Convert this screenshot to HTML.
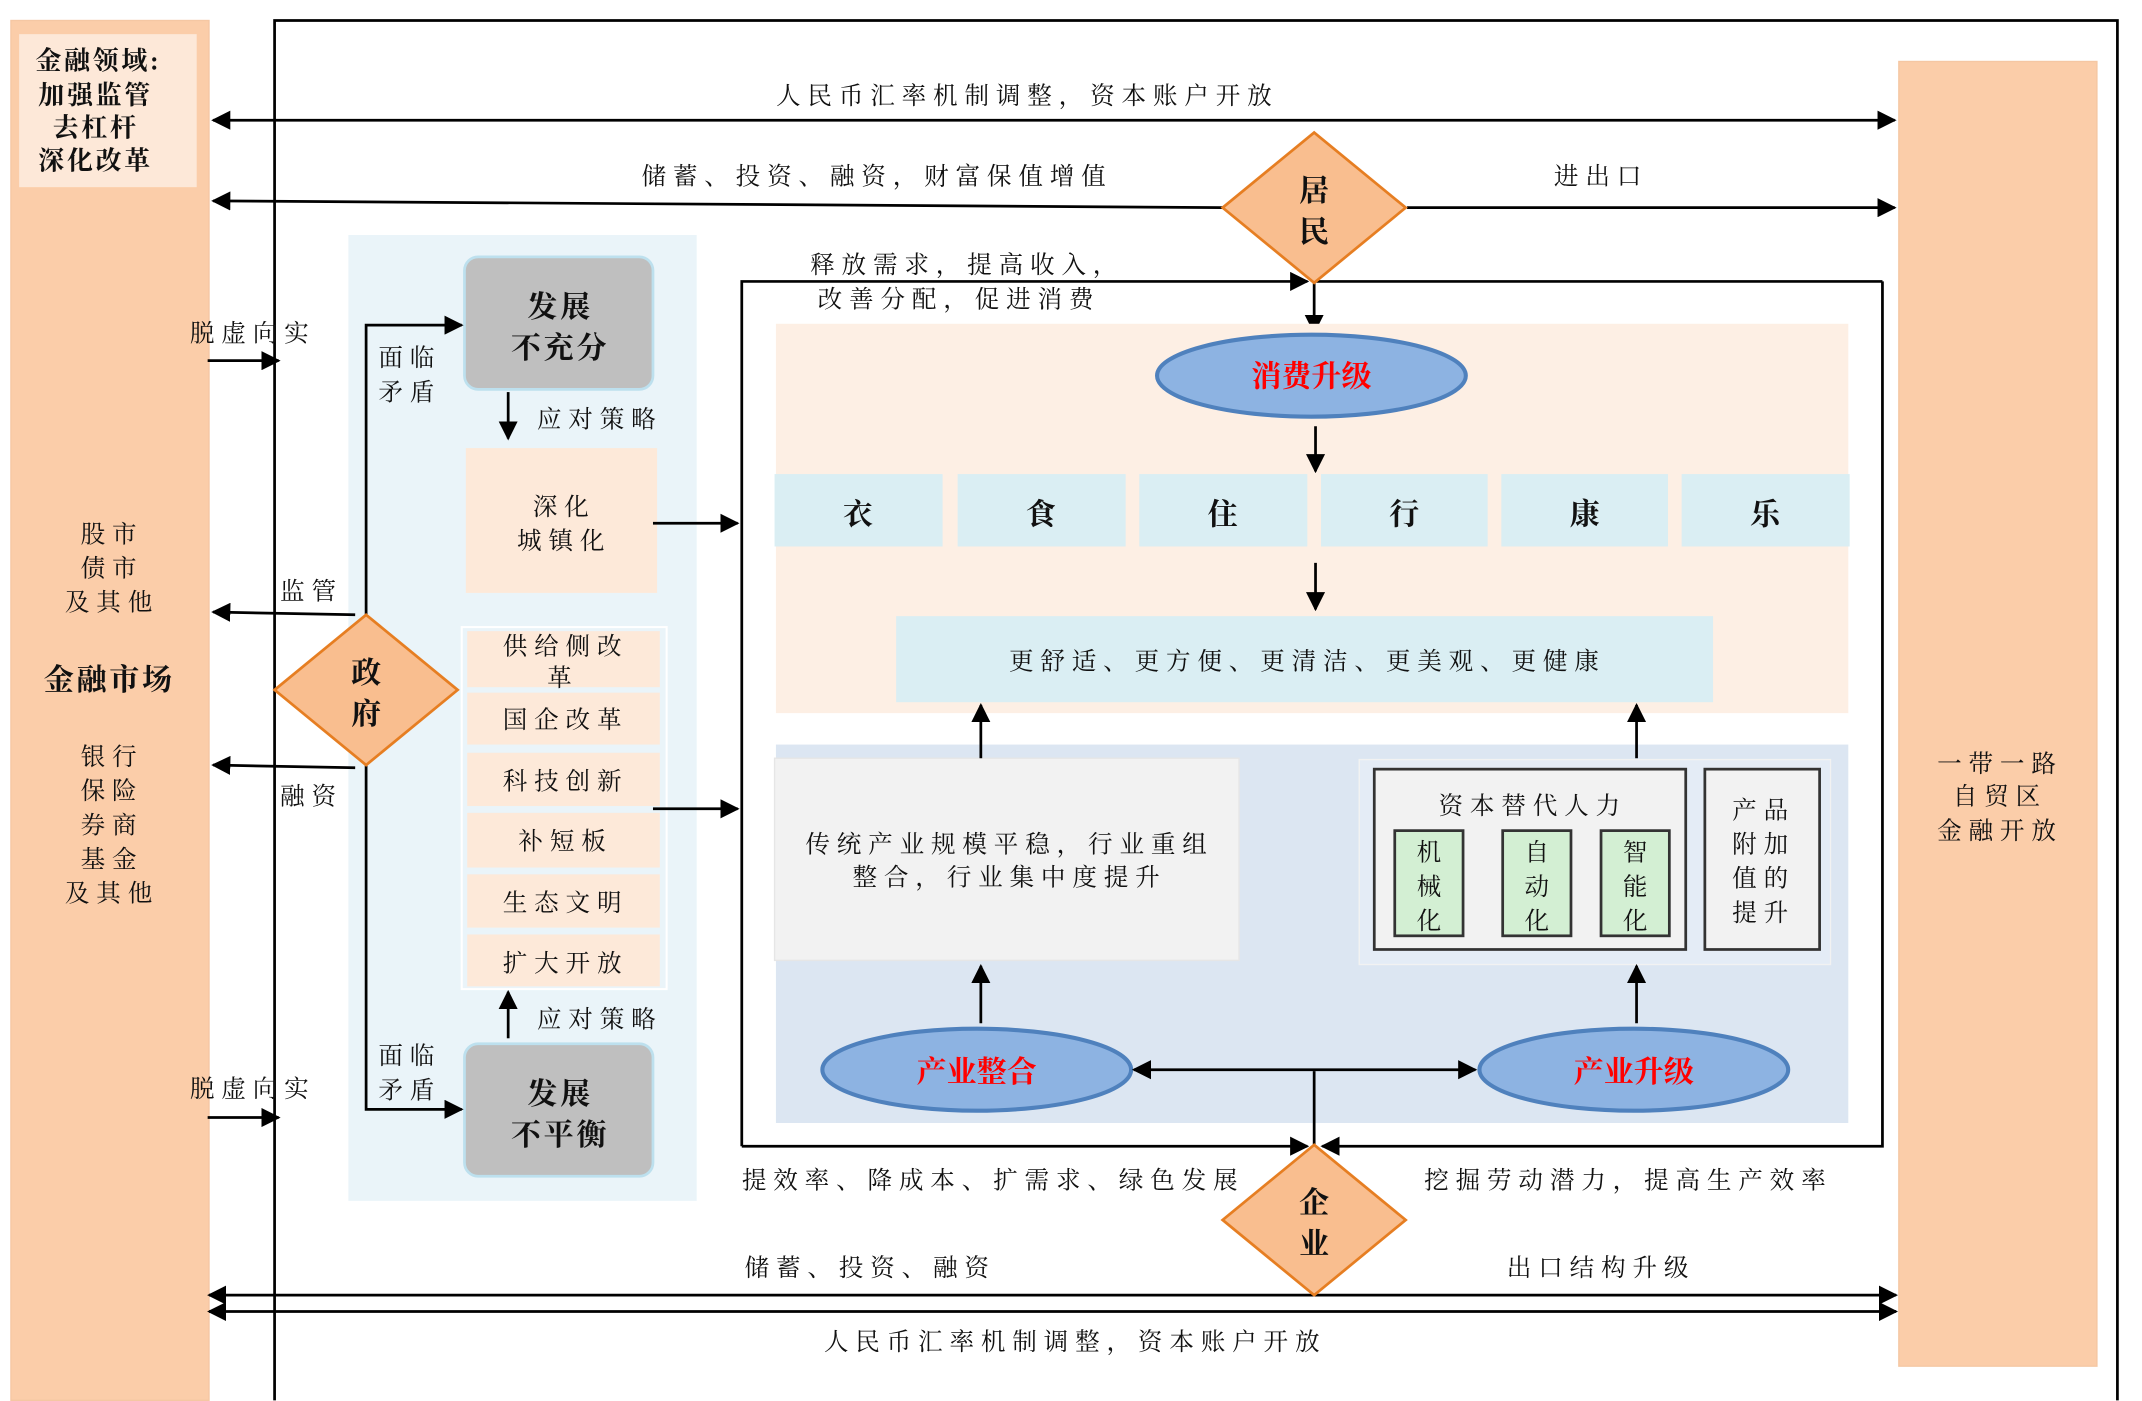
<!DOCTYPE html>
<html><head><meta charset="utf-8"><style>
html,body{margin:0;padding:0;background:#fff}
svg{display:block}
text{font-family:"Liberation Serif","Noto Serif CJK SC",serif;fill:#111}
.s text{letter-spacing:5px}
</style></head><body>
<svg width="2142" height="1401" viewBox="0 0 1568 1025.5" preserveAspectRatio="none" xmlns="http://www.w3.org/2000/svg">
<defs>
<marker id="a" viewBox="0 0 10 10" refX="9" refY="5" markerWidth="7" markerHeight="7" orient="auto-start-reverse"><path d="M0,0L10,5L0,10z" fill="#000"/></marker>
</defs>
<g stroke="#000" stroke-width="2" fill="none">
<path d="M201,1025V15H1550V1025"/>
</g>
<rect x="8" y="15" width="145" height="1010" fill="#FBCDA9" stroke="#F5C7A3"/>
<rect x="14" y="25" width="130" height="112" fill="#FDE8D8"/>
<g font-size="19" font-weight="bold" text-anchor="middle" style="letter-spacing:2px">
<text x="72" y="51">金融领域:</text><text x="70" y="76">加强监管</text><text x="70" y="100">去杠杆</text><text x="70" y="124">深化改革</text>
<text x="80" y="505" font-size="22">金融市场</text>
<text x="1462" y="509" font-size="22">外部经济</text>
</g>
<g class="s" font-size="18" text-anchor="middle">
<text x="82" y="397">股市</text><text x="82" y="422">债市</text><text x="82" y="447">及其他</text>
<text x="82" y="560">银行</text><text x="82" y="585">保险</text><text x="82" y="610">券商</text><text x="82" y="635">基金</text><text x="82" y="660">及其他</text>
</g>
<rect x="1390" y="45" width="145" height="955" fill="#FBCDA9" stroke="#F5C7A3"/>
<g class="s" font-size="18" text-anchor="middle">
<text x="1464" y="565">一带一路</text><text x="1464" y="589">自贸区</text><text x="1464" y="614">金融开放</text>
</g>
<g stroke="#000" stroke-width="2" fill="none">
<path d="M156,88H1387" marker-start="url(#a)" marker-end="url(#a)"/>
<path d="M895,152L156,147" marker-end="url(#a)"/>
<path d="M1030,152H1387" marker-end="url(#a)"/>
<path d="M962,207V243" marker-end="url(#a)"/>
<path d="M543,839V206H957" marker-end="url(#a)"/>
<path d="M962,206H1378"/>
<path d="M543,839H957" marker-end="url(#a)"/>
<path d="M1378,206V839H968" marker-end="url(#a)"/>
<path d="M153,948H1388" marker-start="url(#a)" marker-end="url(#a)"/>
<path d="M153,960H1388" marker-start="url(#a)" marker-end="url(#a)"/>
</g>
<g class="s" font-size="18" text-anchor="middle">
<text x="752" y="76">人民币汇率机制调整，资本账户开放</text>
<text x="642" y="135">储蓄、投资、融资，财富保值增值</text>
<text x="1172" y="135">进出口</text>
<text x="708" y="200">释放需求，提高收入，</text>
<text x="702" y="225">改善分配，促进消费</text>
<text x="727" y="870">提效率、降成本、扩需求、绿色发展</text>
<text x="1192" y="870">挖掘劳动潜力，提高生产效率</text>
<text x="637" y="934">储蓄、投资、融资</text>
<text x="1172" y="934">出口结构升级</text>
<text x="787" y="988">人民币汇率机制调整，资本账户开放</text>
</g>
<rect x="568" y="237" width="785" height="285" fill="#FDEFE4"/>
<ellipse cx="960" cy="275" rx="113" ry="30" fill="#8DB3E2" stroke="#4F81BD" stroke-width="3"/>
<text x="960" y="283" font-size="22" font-weight="bold" text-anchor="middle" style="fill:#FF0000">消费升级</text>
<g fill="#DAEEF3">
<rect x="567" y="347" width="123" height="53"/><rect x="701" y="347" width="123" height="53"/><rect x="834" y="347" width="123" height="53"/><rect x="967" y="347" width="122" height="53"/><rect x="1099" y="347" width="122" height="53"/><rect x="1231" y="347" width="123" height="53"/>
<rect x="656" y="451" width="598" height="63"/>
</g>
<g font-size="22" font-weight="bold" text-anchor="middle">
<text x="628" y="384">衣</text><text x="762" y="384">食</text><text x="895" y="384">住</text><text x="1028" y="384">行</text><text x="1160" y="384">康</text><text x="1292" y="384">乐</text>
</g>
<g class="s" font-size="18" text-anchor="middle">
<text x="957" y="490">更舒适、更方便、更清洁、更美观、更健康</text>
</g>
<rect x="568" y="545" width="785" height="277" fill="#DCE6F2"/>
<rect x="567" y="555" width="340" height="148" fill="#F2F2F2" stroke="#E6E6E6"/>
<g class="s" font-size="18" text-anchor="middle">
<text x="739" y="624">传统产业规模平稳，行业重组</text>
<text x="739" y="648">整合，行业集中度提升</text>
</g>
<rect x="995" y="556" width="345" height="150" fill="#E4ECF6" stroke="#F2F2F2"/>
<rect x="1006" y="563" width="228" height="132" fill="#F2F2F2" stroke="#333" stroke-width="2"/>
<rect x="1248" y="563" width="84" height="132" fill="#F2F2F2" stroke="#333" stroke-width="2"/>
<g fill="#D3EFD3" stroke="#333" stroke-width="2">
<rect x="1021" y="608" width="50" height="77"/><rect x="1100" y="608" width="50" height="77"/><rect x="1172" y="608" width="50" height="77"/>
</g>
<g class="s" font-size="18" text-anchor="middle">
<text x="1122" y="596">资本替代人力</text>
<text x="1291" y="599">产品</text><text x="1291" y="624">附加</text><text x="1291" y="649">值的</text><text x="1291" y="674">提升</text>
</g>
<g font-size="18" text-anchor="middle">
<text x="1046" y="630">机</text><text x="1046" y="655">械</text><text x="1046" y="680">化</text>
<text x="1125" y="630">自</text><text x="1125" y="655">动</text><text x="1125" y="680">化</text>
<text x="1197" y="630">智</text><text x="1197" y="655">能</text><text x="1197" y="680">化</text>
</g>
<ellipse cx="715" cy="783" rx="113" ry="30" fill="#8DB3E2" stroke="#4F81BD" stroke-width="3"/>
<ellipse cx="1196" cy="783" rx="113" ry="30" fill="#8DB3E2" stroke="#4F81BD" stroke-width="3"/>
<text x="715" y="792" font-size="22" font-weight="bold" text-anchor="middle" style="fill:#FF0000">产业整合</text>
<text x="1196" y="792" font-size="22" font-weight="bold" text-anchor="middle" style="fill:#FF0000">产业升级</text>
<g stroke="#000" stroke-width="2" fill="none">
<path d="M963,312V345" marker-end="url(#a)"/>
<path d="M963,412V446" marker-end="url(#a)"/>
<path d="M718,555V516" marker-end="url(#a)"/>
<path d="M1198,555V516" marker-end="url(#a)"/>
<path d="M718,749V707" marker-end="url(#a)"/>
<path d="M1198,749V707" marker-end="url(#a)"/>
<path d="M830,783H1080" marker-start="url(#a)" marker-end="url(#a)"/>
<path d="M962,784V838"/>
</g>
<rect x="255" y="172" width="255" height="707" fill="#EAF4F9"/>
<rect x="340" y="188" width="138" height="97" rx="10" fill="#BFBFBF" stroke="#BDE0EE" stroke-width="2"/>
<rect x="340" y="764" width="138" height="97" rx="10" fill="#BFBFBF" stroke="#BDE0EE" stroke-width="2"/>
<g font-size="22" font-weight="bold" text-anchor="middle" style="letter-spacing:2px">
<text x="410" y="232">发展</text><text x="410" y="262">不充分</text>
<text x="410" y="808">发展</text><text x="410" y="838">不平衡</text>
</g>
<rect x="341" y="328" width="140" height="106" fill="#FDE9D9"/>
<rect x="338" y="459" width="150" height="265" fill="none" stroke="#fff" stroke-width="1.5"/>
<g fill="#FDE9D9">
<rect x="342" y="462" width="141" height="41"/><rect x="342" y="507" width="141" height="38"/><rect x="342" y="551" width="141" height="39"/><rect x="342" y="595" width="141" height="40"/><rect x="342" y="640" width="141" height="39"/><rect x="342" y="684" width="141" height="38"/>
</g>
<g class="s" font-size="18" text-anchor="middle">
<text x="413" y="377">深化</text><text x="413" y="402">城镇化</text>
<text x="414" y="479">供给侧改</text><text x="412" y="502">革</text>
<text x="414" y="533">国企改革</text><text x="414" y="578">科技创新</text><text x="414" y="622">补短板</text><text x="414" y="667">生态文明</text><text x="414" y="711">扩大开放</text>
<text x="439" y="313">应对策略</text><text x="439" y="752">应对策略</text>
<text x="300" y="268">面临</text><text x="300" y="293">矛盾</text>
<text x="300" y="779">面临</text><text x="300" y="804">矛盾</text>
<text x="228" y="439">监管</text><text x="228" y="589">融资</text>
<text x="185" y="250">脱虚向实</text><text x="185" y="803">脱虚向实</text>
</g>
<g stroke="#000" stroke-width="2" fill="none">
<path d="M372,287V321" marker-end="url(#a)"/>
<path d="M372,760V726" marker-end="url(#a)"/>
<path d="M478,383H540" marker-end="url(#a)"/>
<path d="M478,592H540" marker-end="url(#a)"/>
<path d="M268,452V238H338" marker-end="url(#a)"/>
<path d="M268,558V812H338" marker-end="url(#a)"/>
<path d="M260,450L156,448" marker-end="url(#a)"/>
<path d="M260,562L156,560" marker-end="url(#a)"/>
<path d="M152,264H204" marker-end="url(#a)"/>
<path d="M152,818H204" marker-end="url(#a)"/>
</g>
<g fill="#F9BE8F" stroke="#E67E22" stroke-width="2">
<path d="M962,97L1029,152L962,207L895,152Z"/>
<path d="M962,838L1029,893L962,948L895,893Z"/>
<path d="M268,450L335,505L268,560L201,505Z"/>
</g>
<g font-size="22" font-weight="bold" text-anchor="middle">
<text x="962" y="147">居</text><text x="962" y="177">民</text>
<text x="962" y="888">企</text><text x="962" y="918">业</text>
<text x="268" y="500">政</text><text x="268" y="530">府</text>
</g>
</svg>
</body></html>
